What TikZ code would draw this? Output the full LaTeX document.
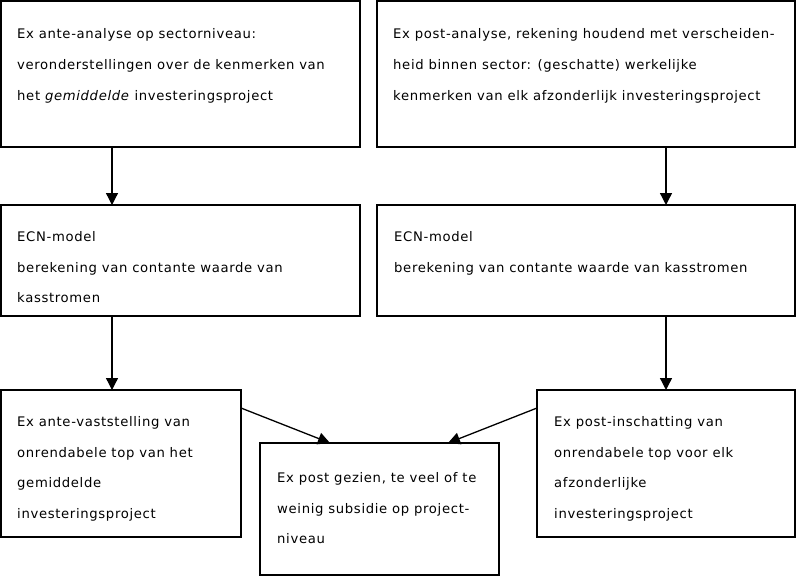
\documentclass[tikz,border=0pt]{standalone}
\usepackage{fontspec}
\setmainfont[LetterSpace=5]{DejaVu Sans}
\usetikzlibrary{arrows.meta}
\begin{document}
\begin{tikzpicture}[x=1pt,y=-1pt,
  box/.style={draw=black, line width=2pt, inner sep=0pt, outer sep=0pt, anchor=north west, fill=white},
  txt/.style={anchor=base west, inner sep=0pt, font=\fontsize{13.2}{15}\selectfont},
  arr/.style={line width=1.3pt, -{Triangle[length=12pt,width=12pt]}}]
\useasboundingbox[fill=white] (0,0) rectangle (797,576);
% boxes
\node[box, minimum width=359pt, minimum height=146pt] (b1) at (1,1) {};
\node[box, minimum width=418pt, minimum height=146pt] (b2) at (377,1) {};
\node[box, minimum width=359pt, minimum height=111pt] (b3) at (1,205) {};
\node[box, minimum width=418pt, minimum height=111pt] (b4) at (377,205) {};
\node[box, minimum width=240pt, minimum height=147pt] (b5) at (1,390) {};
\node[box, minimum width=239pt, minimum height=132pt] (b6) at (260,443) {};
\node[box, minimum width=258pt, minimum height=147pt] (b7) at (537,390) {};
% texts
\node[txt] (t1a) at (17,38) {Ex ante-analyse op sectorniveau:};
\node[txt] (t1b) at (17,69) {veronderstellingen over de kenmerken van};
\node[txt] (t1c) at (17,100) {het \textit{gemiddelde} investeringsproject};
\node[txt] (t2a) at (393,38) {Ex post-analyse, rekening houdend met verscheiden-};
\node[txt] (t2b) at (393,69) {heid binnen sector: (geschatte) werkelijke};
\node[txt] (t2c) at (393,100) {kenmerken van elk afzonderlijk investeringsproject};
\node[txt] (t3a) at (17,241) {ECN-model};
\node[txt] (t3b) at (17,272) {berekening van contante waarde van};
\node[txt] (t3c) at (17,302) {kasstromen};
\node[txt] (t4a) at (394,241) {ECN-model};
\node[txt] (t4b) at (394,272) {berekening van contante waarde van kasstromen};
\node[txt] (t5a) at (17,426) {Ex ante-vaststelling van};
\node[txt] (t5b) at (17,457) {onrendabele top van het};
\node[txt] (t5c) at (17,487) {gemiddelde};
\node[txt] (t5d) at (17,518) {investeringsproject};
\node[txt] (t6a) at (277,482) {Ex post gezien, te veel of te};
\node[txt] (t6b) at (277,513) {weinig subsidie op project-};
\node[txt] (t6c) at (277,543) {niveau};
\node[txt] (t7a) at (554,426) {Ex post-inschatting van};
\node[txt] (t7b) at (554,457) {onrendabele top voor elk};
\node[txt] (t7c) at (554,487) {afzonderlijke};
\node[txt] (t7d) at (554,518) {investeringsproject};
% arrows
\draw[arr] ([xshift=111pt]b1.south west) -- ([xshift=111pt]b3.north west);
\draw[arr] ([xshift=289pt]b2.south west) -- ([xshift=289pt]b4.north west);
\draw[arr] ([xshift=111pt]b3.south west) -- ([xshift=111pt]b5.north west);
\draw[arr] ([xshift=289pt]b4.south west) -- ([xshift=129pt]b7.north west);
\draw[arr] ([yshift=-18pt]b5.north east) -- ([xshift=70pt]b6.north west);
\draw[arr] ([yshift=-18pt]b7.north west) -- ([xshift=188pt]b6.north west);
\end{tikzpicture}
\end{document}
